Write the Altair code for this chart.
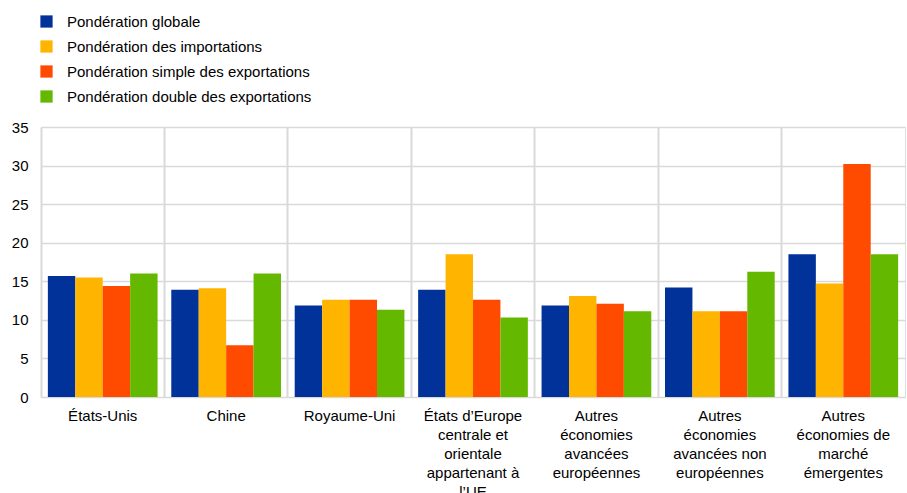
import altair as alt
import pandas as pd

categories = [
    "États-Unis",
    "Chine",
    "Royaume-Uni",
    "États d’Europe\ncentrale et\norientale\nappartenant à\nl’UE",
    "Autres\néconomies\navancées\neuropéennes",
    "Autres\néconomies\navancées non\neuropéennes",
    "Autres\néconomies de\nmarché\némergentes",
]
series = [
    "Pondération globale",
    "Pondération des importations",
    "Pondération simple des exportations",
    "Pondération double des exportations",
]
colors = ["#003299", "#FFB400", "#FF4B00", "#65B800"]
y_ticks = [0, 5, 10, 15, 20, 25, 30, 35]

globale = [15.7, 13.9, 11.85, 13.9, 11.85, 14.2, 18.5]
importations = [15.5, 14.1, 12.6, 18.5, 13.1, 11.1, 14.7]
simple_export = [14.4, 6.7, 12.6, 12.6, 12.1, 11.1, 30.2]
double_export = [16.0, 16.0, 11.3, 10.3, 11.1, 16.25, 18.5]

rows = []
for s, vals in zip(series, [globale, importations, simple_export, double_export]):
    for c, v in zip(categories, vals):
        rows.append({"cat": c, "series": s, "value": v})
df = pd.DataFrame(rows)

FONT = "Liberation Sans"
GRID = "#d9d9d9"

xscale = alt.Scale(paddingInner=0, paddingOuter=0)
yscale = alt.Scale(domain=[0, 35], nice=False)
yaxis = alt.Axis(
    title=None,
    values=y_ticks,
    grid=True,
    gridColor=GRID,
    gridWidth=1.5,
    domain=False,
    ticks=False,
    labelPadding=13,
    labelFontSize=15,
    labelColor="#000000",
    labelFont=FONT,
    labelOverlap=False,
)

bars = alt.Chart(df).mark_bar().encode(
    x=alt.X(
        "cat:N",
        sort=categories,
        scale=xscale,
        axis=alt.Axis(
            title=None,
            labelAngle=0,
            grid=False,
            domain=False,
            ticks=False,
            labelPadding=11,
            labelFontSize=15,
            labelLineHeight=19,
            labelBaseline="top",
            labelExpr="split(datum.label, '\\n')",
            labelColor="#000000",
            labelFont=FONT,
            labelOverlap=False,
            labelLimit=0,
        ),
    ),
    xOffset=alt.XOffset(
        "series:N", sort=series, scale=alt.Scale(paddingOuter=0.25, paddingInner=0)
    ),
    y=alt.Y("value:Q", scale=yscale, axis=yaxis),
    color=alt.Color(
        "series:N",
        sort=series,
        scale=alt.Scale(domain=series, range=colors),
        legend=alt.Legend(
            title=None,
            orient="none",
            legendX=-2,
            legendY=-113,
            symbolType="square",
            symbolSize=150,
            symbolStrokeWidth=0,
            labelFontSize=15,
            labelFont=FONT,
            labelColor="#000000",
            labelOffset=13,
            labelLimit=0,
            rowPadding=9,
            padding=0,
        ),
    ),
)

vgrid = alt.Chart(df).mark_bar(opacity=0).encode(
    x=alt.X(
        "cat:N",
        sort=categories,
        scale=xscale,
        axis=alt.Axis(
            orient="top",
            title=None,
            grid=True,
            gridColor=GRID,
            gridWidth=2,
            bandPosition=0,
            labels=False,
            ticks=False,
            domain=False,
        ),
    ),
    y=alt.Y("value:Q", scale=yscale, axis=yaxis),
)

chart = (
    alt.layer(vgrid, bars)
    .resolve_axis(x="independent")
    .properties(
        width=864,
        height=270,
        autosize=alt.AutoSizeParams(type="none"),
        padding={"left": 41, "top": 127, "right": 2, "bottom": 96},
    )
    .configure_view(stroke=None)
    .configure(background="white")
)

chart.save("out.html", embed_options={"renderer": "svg", "actions": False})
